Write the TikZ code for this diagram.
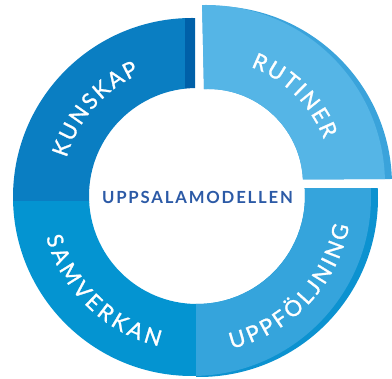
\documentclass[tikz,border=0pt]{standalone}
\usepackage{fontspec}
\setmainfont{Lato}
\newfontfamily\ringfontfam[FakeBold=1.2]{Lato}
\newfontfamily\titlefontfam[LetterSpace=11]{Lato}
\newcommand\ringfont{\ringfontfam\fontsize{22pt}{23pt}\selectfont}
\usetikzlibrary{decorations.text,calc}
\definecolor{kunskapc}{HTML}{0A7EC2}
\definecolor{kunskapside}{HTML}{0060A8}
\definecolor{samverkanc}{HTML}{0494D1}
\definecolor{uppfc}{HTML}{35A4DC}
\definecolor{uppfside}{HTML}{0C92D0}
\definecolor{rutinerc}{HTML}{55B5E6}
\definecolor{rutinerside}{HTML}{3AA3DB}
\definecolor{titlec}{HTML}{2C5AA6}
\tikzset{
  ringtext/.style={decorate, decoration={text along path, text={|\ringfont|#1}, text color=white, text align=fit to path}},
  titlestyle/.style={inner sep=0pt, text=titlec, font=\titlefontfam\bfseries\fontsize{16.7pt}{18pt}\selectfont}
}
\begin{document}
\begin{tikzpicture}[x=1pt,y=1pt]
\useasboundingbox (0,0) rectangle (392,379);
% centres
\coordinate (O1) at (192,182);
\coordinate (I1) at (197,183);
\coordinate (S1) at (199,181);
\coordinate (O2) at (206,195);
\coordinate (I2) at (208,195);
\coordinate (S2) at (213,194);
\coordinate (T1) at (195,183);
\coordinate (T2) at (207,195);
% KUNSKAP
\begin{scope}
\clip (0,177) rectangle (185,379);
\fill[kunskapc, even odd rule] (O1) circle[radius=179pt] (I1) circle[radius=108pt];
\end{scope}
\begin{scope}
\clip (185,177) rectangle (195,379);
\fill[kunskapside, even odd rule] (O1) circle[radius=179pt] (I1) circle[radius=108pt];
\end{scope}
% SAMVERKAN
\begin{scope}
\clip (0,0) rectangle (196,177);
\fill[samverkanc, even odd rule] (O1) circle[radius=179pt] (I1) circle[radius=108pt];
\end{scope}
% UPPFOLJNING
\begin{scope}
\clip (196,0) rectangle (392,190);
\fill[uppfside, even odd rule] (S1) circle[radius=179pt] (I1) circle[radius=108pt];
\fill[uppfc, even odd rule] (O1) circle[radius=179pt] (I1) circle[radius=108pt];
\end{scope}
% RUTINER
\begin{scope}
\clip (202,379) -- (392,379) -- (392,200) -- (206,199) -- cycle;
\fill[rutinerside, even odd rule] (S2) circle[radius=179pt] (I2) circle[radius=95pt];
\fill[rutinerc, even odd rule] (O2) circle[radius=179pt] (I2) circle[radius=95pt];
\end{scope}
% ring texts
\path[ringtext=KUNSKAP] ($(T1)+(163.5:134pt)$) arc[start angle=163.5, end angle=114.5, radius=134pt];
\path[ringtext=RUTINER] ($(T2)+(69.5:125pt)$) arc[start angle=69.5, end angle=21, radius=125pt];
\path[ringtext=SAMVERKAN] ($(T1)+(195.5:154.5pt)$) arc[start angle=195.5, end angle=256.5, radius=154.5pt];
\path[ringtext=UPPFÖLJNING] ($(T1)+(283.5:157pt)$) arc[start angle=283.5, end angle=349, radius=157pt];
% title
\node[titlestyle] (title) at (197.5,182) {UPPSALAMODELLEN};
\end{tikzpicture}
\end{document}
